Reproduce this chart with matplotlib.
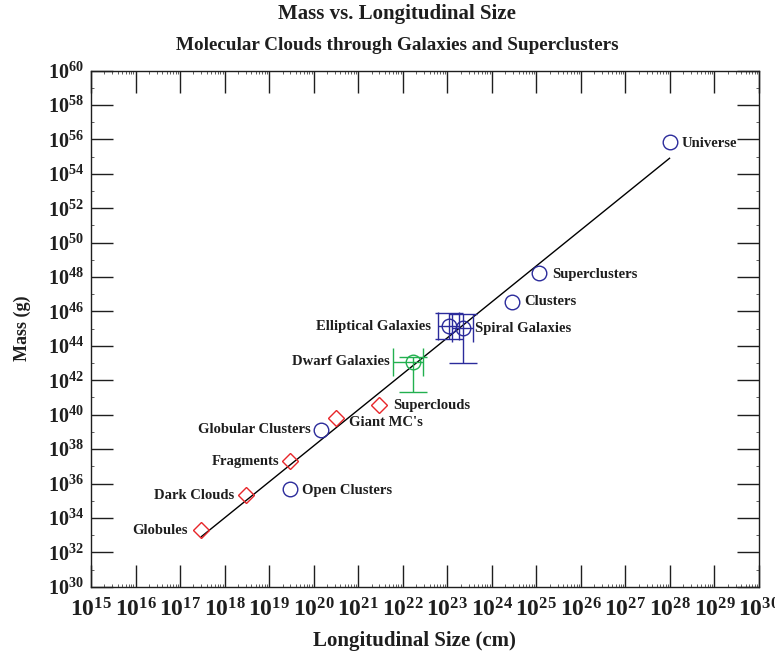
import math
import matplotlib
matplotlib.use("Agg")
import matplotlib.pyplot as plt
from matplotlib.ticker import LogLocator, FixedLocator, FuncFormatter, NullFormatter

plt.rcParams["font.family"] = ["Liberation Serif", "DejaVu Serif"]
plt.rcParams["font.weight"] = "bold"
plt.rcParams["mathtext.fontset"] = "custom"
plt.rcParams["mathtext.rm"] = "Liberation Serif:bold"
plt.rcParams["mathtext.bf"] = "Liberation Serif:bold"
plt.rcParams["mathtext.it"] = "Liberation Serif:bold:italic"

# --- data -------------------------------------------------------------
cloud_names = ["Globules", "Dark Clouds", "Fragments", "Giant MC's", "Superclouds"]
cloud_size = [3.0e17, 3.0e18, 3.0e19, 3.1e20, 3.0e21]
cloud_mass = [1.9e33, 2.1e35, 2.0e37, 6.2e39, 3.6e40]

system_names = ["Open Clusters", "Globular Clusters", "Clusters", "Superclusters", "Universe"]
system_size = [2.95e19, 1.45e20, 2.9e24, 1.17e25, 9.8e27]
system_mass = [4.6e35, 1.3e39, 3.7e46, 1.8e48, 7.4e55]

galaxy_names = ["Elliptical Galaxies", "Spiral Galaxies"]
galaxy_size = [1.07e23, 2.24e23]
galaxy_mass = [1.35e45, 1.05e45]
galaxy_size_lo = [6.3e22, 1.26e23]
galaxy_size_hi = [1.8e23, 3.7e23]
galaxy_mass_lo = [2.5e44, 1.05e43]
galaxy_mass_hi = [8.0e45, 7.2e45]

dwarf_name = "Dwarf Galaxies"
dwarf_size = 1.66e22
dwarf_mass = 1.2e43
dwarf_size_lo, dwarf_size_hi = 5.9e21, 2.8e22
dwarf_mass_lo, dwarf_mass_hi = 2.2e41, 2.3e43

fit_size = [3.0e17, 9.8e27]
fit_mass = [8.1e32, 8.1e54]

# --- figure -----------------------------------------------------------
fig = plt.figure(figsize=(7.75, 6.58), dpi=100)
ax = fig.add_axes([91 / 775, 1 - 586.7 / 658, (759 - 91) / 775, (586.7 - 70.7) / 658])
ax.set_xscale("log")
ax.set_yscale("log")
ax.set_xlim(1e15, 1e30)
ax.set_ylim(1e30, 1e60)

BLUE = "#2b2b9b"
RED = "#e8262a"
GREEN = "#22b04f"
INK = "#1e1e1e"

ax.plot(fit_size, fit_mass, color="black", lw=1.0, zorder=2)

ax.plot(cloud_size, cloud_mass, ls="none", marker="D", ms=7.8, mfc="none",
        mec=RED, mew=1.0, zorder=3)
ax.plot(system_size, system_mass, ls="none", marker="o", ms=10.5, mfc="none",
        mec=BLUE, mew=1.0, zorder=3)

gx_err = [[s - lo for s, lo in zip(galaxy_size, galaxy_size_lo)],
          [hi - s for s, hi in zip(galaxy_size, galaxy_size_hi)]]
gy_err = [[m - lo for m, lo in zip(galaxy_mass, galaxy_mass_lo)],
          [hi - m for m, hi in zip(galaxy_mass, galaxy_mass_hi)]]
ax.errorbar(galaxy_size, galaxy_mass, xerr=gx_err, yerr=gy_err, ls="none",
            marker="o", ms=10.5, mfc="none", mec=BLUE, mew=1.0, ecolor=BLUE,
            elinewidth=1.0, capsize=10, capthick=1.0, zorder=3)

ax.errorbar([dwarf_size], [dwarf_mass],
            xerr=[[dwarf_size - dwarf_size_lo], [dwarf_size_hi - dwarf_size]],
            yerr=[[dwarf_mass - dwarf_mass_lo], [dwarf_mass_hi - dwarf_mass]],
            ls="none", marker="o", ms=10.5, mfc="none", mec=GREEN, mew=1.0,
            ecolor=GREEN, elinewidth=1.0, capsize=10, capthick=1.0, zorder=3)

# label offsets in points (dx, dy)
label_offsets = {
    "Globules": (-9.5, 0), "Dark Clouds": (-8, 0), "Fragments": (-7.7, 0),
    "Giant MC's": (10, -3), "Superclouds": (9.6, 0),
    "Open Clusters": (8.4, -1), "Globular Clusters": (-7.2, 0),
    "Clusters": (8.8, 0), "Superclusters": (9.1, -1), "Universe": (8.4, -1),
    "Elliptical Galaxies": (-12.7, 0), "Spiral Galaxies": (8.8, 0),
    "Dwarf Galaxies": (-16.3, 0),
}

def put_label(name, x, y):
    dx, dy = label_offsets[name]
    ax.annotate(name, (x, y), xytext=(dx, dy), textcoords="offset points",
                ha="right" if dx < 0 else "left", va="center",
                fontsize=10.5, fontweight="bold", color=INK, zorder=4)

for n, x, y in zip(cloud_names, cloud_size, cloud_mass):
    put_label(n, x, y)
for n, x, y in zip(system_names, system_size, system_mass):
    put_label(n, x, y)
for n, x, y in zip(galaxy_names, galaxy_size, galaxy_mass):
    put_label(n, x, y)
put_label(dwarf_name, dwarf_size, dwarf_mass)

# --- ticks ------------------------------------------------------------
x_major = [10.0 ** k for k in range(15, 31)]
y_major = [10.0 ** k for k in range(30, 61, 2)]
y_minor = [10.0 ** k for k in range(31, 60, 2)]
ax.xaxis.set_major_locator(FixedLocator(x_major))
ax.xaxis.set_minor_locator(LogLocator(base=10, subs=range(2, 10), numticks=200))
ax.yaxis.set_major_locator(FixedLocator(y_major))
ax.yaxis.set_minor_locator(FixedLocator(y_minor))

def exp_fmt(v, pos):
    return r"$\mathdefault{10^{%d}}$" % round(math.log10(v))

ax.xaxis.set_major_formatter(FuncFormatter(exp_fmt))
ax.yaxis.set_major_formatter(FuncFormatter(exp_fmt))
ax.xaxis.set_minor_formatter(NullFormatter())
ax.yaxis.set_minor_formatter(NullFormatter())

ax.tick_params(which="major", direction="in", length=16, width=1.0,
               top=True, right=True, color=INK)
ax.tick_params(which="minor", direction="in", length=2.5, width=0.6,
               top=True, right=True, color="#444444")
ax.tick_params(axis="x", which="major", labelsize=17, pad=8)
ax.tick_params(axis="y", which="major", labelsize=14.5, pad=5)
for lbl in ax.get_xticklabels() + ax.get_yticklabels():
    lbl.set_color(INK)
for sp in ax.spines.values():
    sp.set_linewidth(1.0)
    sp.set_color(INK)

ax.set_xlabel("Longitudinal Size (cm)", fontsize=15, fontweight="bold",
              color=INK, labelpad=7)
ax.xaxis.label.set_x(0.4835)
ax.set_ylabel("Mass (g)", fontsize=13, fontweight="bold", color=INK,
              labelpad=12)

fig.text(397 / 775, 1 - 14 / 658, "Mass vs. Longitudinal Size", ha="center",
         va="center", fontsize=15, fontweight="bold", color=INK)
fig.text(397 / 775, 1 - 45 / 658,
         "Molecular Clouds through Galaxies and Superclusters", ha="center",
         va="center", fontsize=13.8, fontweight="bold", color=INK)

fig.savefig("out.png", dpi=100)
